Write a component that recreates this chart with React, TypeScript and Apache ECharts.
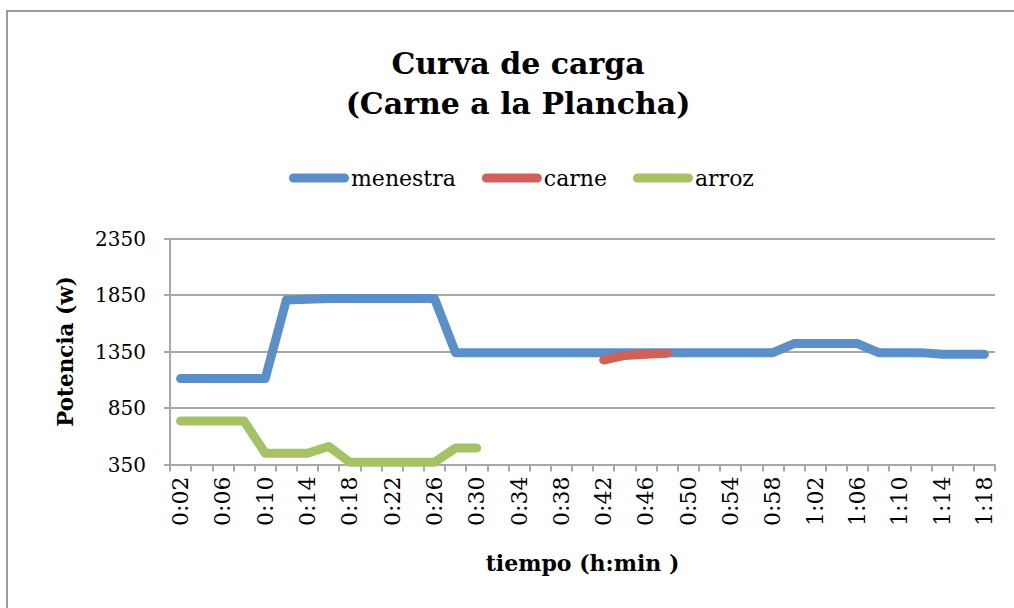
import React, { useEffect, useRef } from "react";
import * as echarts from "echarts";

const categories = [
  "0:02", "0:04", "0:06", "0:08", "0:10", "0:12", "0:14", "0:16", "0:18", "0:20",
  "0:22", "0:24", "0:26", "0:28", "0:30", "0:32", "0:34", "0:36", "0:38", "0:40",
  "0:42", "0:44", "0:46", "0:48", "0:50", "0:52", "0:54", "0:56", "0:58", "1:00",
  "1:02", "1:04", "1:06", "1:08", "1:10", "1:12", "1:14", "1:16", "1:18",
];

const menestra = [
  1110, 1110, 1110, 1110, 1110, 1805, 1812, 1820, 1820, 1820,
  1820, 1820, 1820, 1340, 1340, 1340, 1340, 1340, 1340, 1340,
  1340, 1340, 1340, 1340, 1340, 1340, 1340, 1340, 1340, 1420,
  1420, 1420, 1420, 1340, 1340, 1340, 1325, 1325, 1325,
];

const carne = [
  null, null, null, null, null, null, null, null, null, null,
  null, null, null, null, null, null, null, null, null, null,
  1275, 1315, 1325, 1335, null, null, null, null, null, null,
  null, null, null, null, null, null, null, null, null,
];

const arroz = [
  735, 735, 735, 735, 450, 450, 450, 510, 370, 370,
  370, 370, 370, 495, 495, null, null, null, null, null,
  null, null, null, null, null, null, null, null, null, null,
  null, null, null, null, null, null, null, null, null,
];

const seriesNames = ["menestra", "carne", "arroz"];
const colors = ["#5B8FC7", "#CF6158", "#A6C266"];
const yTicks = { min: 350, max: 2350, interval: 500 };

const SERIF = "'DejaVu Serif', 'Liberation Serif', serif";
const GRID = "#a8a8a8";

export default function App() {
  const ref = useRef<HTMLDivElement>(null);

  useEffect(() => {
    document.body.style.margin = "0";
    const chart = echarts.init(ref.current!, undefined, { renderer: "svg" });
    const dataSets = [menestra, carne, arroz];
    chart.setOption({
      animation: false,
      backgroundColor: "#ffffff",
      title: {
        text: "Curva de carga\n(Carne a la Plancha)",
        left: 518,
        top: 43,
        padding: 0,
        textAlign: "center",
        textStyle: {
          fontFamily: SERIF,
          fontWeight: "bold",
          fontSize: 30,
          lineHeight: 40,
          color: "#000",
        },
      },
      legend: {
        data: seriesNames,
        left: 289,
        top: 167,
        padding: 0,
        itemGap: 26,
        itemWidth: 60,
        itemHeight: 9,
        icon: "path://M4.5,0L55.5,0A4.5,4.5,0,0,1,55.5,9L4.5,9A4.5,4.5,0,0,1,4.5,0Z",
        textStyle: {
          fontFamily: SERIF,
          fontSize: 22,
          color: "#000",
          padding: [8, 0, 0, -3],
        },
      },
      graphic: [
        {
          type: "line",
          shape: { x1: 7, y1: 10, x2: 7, y2: 620 },
          style: { stroke: "#9a9a9a", lineWidth: 2 },
          silent: true,
        },
        {
          type: "line",
          shape: { x1: 6, y1: 11, x2: 1030, y2: 11 },
          style: { stroke: "#9a9a9a", lineWidth: 2 },
          silent: true,
        },
      ],
      grid: { left: 170, right: 19, top: 238.5, bottom: 143.5 },
      xAxis: {
        type: "category",
        data: categories,
        boundaryGap: true,
        name: "tiempo (h:min )",
        nameLocation: "middle",
        nameGap: 87,
        nameTextStyle: {
          fontFamily: SERIF,
          fontWeight: "bold",
          fontSize: 22,
          color: "#000",
        },
        axisLine: { show: true, lineStyle: { color: GRID, width: 2 } },
        axisTick: { show: true, interval: 0, length: 7, lineStyle: { color: GRID, width: 2 } },
        axisLabel: {
          interval: 1,
          rotate: 90,
          margin: 12,
          fontFamily: SERIF,
          fontSize: 22,
          color: "#000",
        },
        splitLine: { show: false },
      },
      yAxis: {
        type: "value",
        min: yTicks.min,
        max: yTicks.max,
        interval: yTicks.interval,
        name: "Potencia (w)",
        nameLocation: "middle",
        nameGap: 94,
        nameTextStyle: {
          fontFamily: SERIF,
          fontWeight: "bold",
          fontSize: 21.5,
          color: "#000",
        },
        axisLine: { show: true, lineStyle: { color: GRID, width: 2 } },
        axisTick: { show: true, length: 6, lineStyle: { color: GRID, width: 2 } },
        axisLabel: {
          margin: 24,
          fontFamily: SERIF,
          fontSize: 20,
          color: "#000",
          formatter: (v: number) => String(v),
        },
        splitLine: { show: true, lineStyle: { color: GRID, width: 2 } },
      },
      series: seriesNames.map((name, i) => ({
        name,
        type: "line",
        data: dataSets[i],
        showSymbol: false,
        symbol: "none",
        connectNulls: false,
        smooth: false,
        color: colors[i],
        lineStyle: { color: colors[i], width: 9, cap: "round", join: "round" },
      })),
    });
    return () => chart.dispose();
  }, []);

  return <div ref={ref} style={{ width: 1014, height: 608 }} />;
}
